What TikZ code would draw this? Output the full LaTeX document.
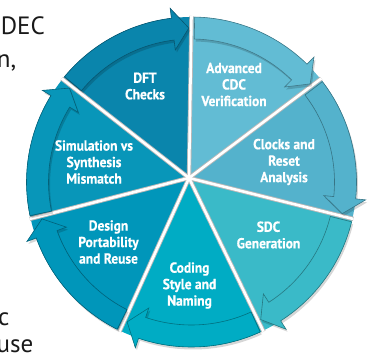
\documentclass[tikz,border=0pt]{standalone}
\usepackage{fontspec}
\setmainfont{PT Sans}
\newfontfamily\labelfont[FakeStretch=0.93,BoldFeatures={FakeBold=0.5}]{PT Sans}
\usetikzlibrary{calc}
\definecolor{cDFT}{RGB}{10,133,172}
\definecolor{cADV}{RGB}{98,188,212}
\definecolor{cCLK}{RGB}{84,178,204}
\definecolor{cSDC}{RGB}{58,186,200}
\definecolor{cCOD}{RGB}{0,172,196}
\definecolor{cDES}{RGB}{0,150,186}
\definecolor{cSIM}{RGB}{8,150,185}
\begin{document}
\begin{tikzpicture}[x=1pt,y=1pt,
  seglabel/.style={text=white, align=center, inner sep=0pt, font=\labelfont\bfseries\fontsize{14.5}{16.5}\selectfont},
  sidetext/.style={text=black!90, anchor=base east, inner sep=0pt, font=\fontsize{25}{30}\selectfont},
  sepshade/.style={draw=black!28, line width=4.4pt},
  sepline/.style={draw=white, line width=2.6pt},
  arrowshadow/.style={fill=black, opacity=0.16},
  arrowbody/.style={line width=0.6pt, line join=miter}
]
\useasboundingbox (0,0) rectangle (372,354);
\clip (0,0) rectangle (372,354);
\coordinate (C) at (191.5,172);
\coordinate (Cs) at (193,169.5);
\coordinate (H) at (189,176);
% segments
\foreach \k/\col in {0/cADV,1/cCLK,2/cSDC,3/cCOD,4/cDES,5/cSIM,6/cDFT}{
  \pgfmathsetmacro\sa{90-\k*360/7}
  \pgfmathsetmacro\ea{\sa-360/7}
  \fill[\col] (H) -- ($(C)+(\sa:165)$) arc[start angle=\sa, end angle=\ea, radius=165] -- cycle;
}
% separators
\foreach \k in {0,...,6}{
  \pgfmathsetmacro\b{90-\k*360/7}
  \draw[sepshade] (H) -- ($(C)+(\b:166)$);
}
\foreach \k in {0,...,6}{
  \pgfmathsetmacro\b{90-\k*360/7}
  \draw[sepline] (H) -- ($(C)+(\b:166)$);
}
\fill[white] (H) circle (2.5);
% arrows
\foreach \k/\col in {0/cADV,1/cCLK,2/cSDC,3/cCOD,4/cDES,5/cSIM,6/cDFT}{
  \pgfmathsetmacro\sa{90-\k*360/7}
  \pgfmathsetmacro\ea{\sa-360/7}
  \pgfmathsetmacro\bs{\sa-1.1}
  \pgfmathsetmacro\hb{\ea+7}
  \pgfmathsetmacro\tp{\ea+1}
  \def\arrowpath{($(\cc)+(\bs:165)$) arc[start angle=\bs, end angle=\hb, radius=165] -- ($(\cc)+(\hb:175)$) -- ($(\cc)+(\tp:154)$) -- ($(\cc)+(\hb:133)$) -- ($(\cc)+(\hb:143)$) arc[start angle=\hb, end angle=\bs, radius=143] -- cycle}
  \def\cc{Cs}
  \fill[arrowshadow] \arrowpath;
  \def\cc{C}
  \filldraw[fill=\col, draw=\col!65!black, arrowbody] \arrowpath;
}
% labels
\node[seglabel] (dft) at (145,268) {DFT\\Checks};
\node[seglabel] (adv) at (234,269.5) {Advanced\\CDC\\Verification};
\node[seglabel] (clk) at (284,192) {Clocks and\\Reset\\Analysis};
\node[seglabel] (sdc) at (268.5,119) {SDC\\Generation};
\node[seglabel] (cod) at (189.5,68.5) {Coding\\Style and\\Naming};
\node[seglabel] (des) at (108.5,112) {Design\\Portability\\and Reuse};
\node[seglabel] (sim) at (94,192) {Simulation vs\\Synthesis\\Mismatch};
% cut-off surrounding text
\node[sidetext] (t1) at (45,319) {DEC};
\node[sidetext] (t2) at (16.5,286) {n,};
\node[sidetext] (t3) at (9.5,29) {c};
\node[sidetext] (t4) at (33.5,1.5) {use};
\end{tikzpicture}
\end{document}
